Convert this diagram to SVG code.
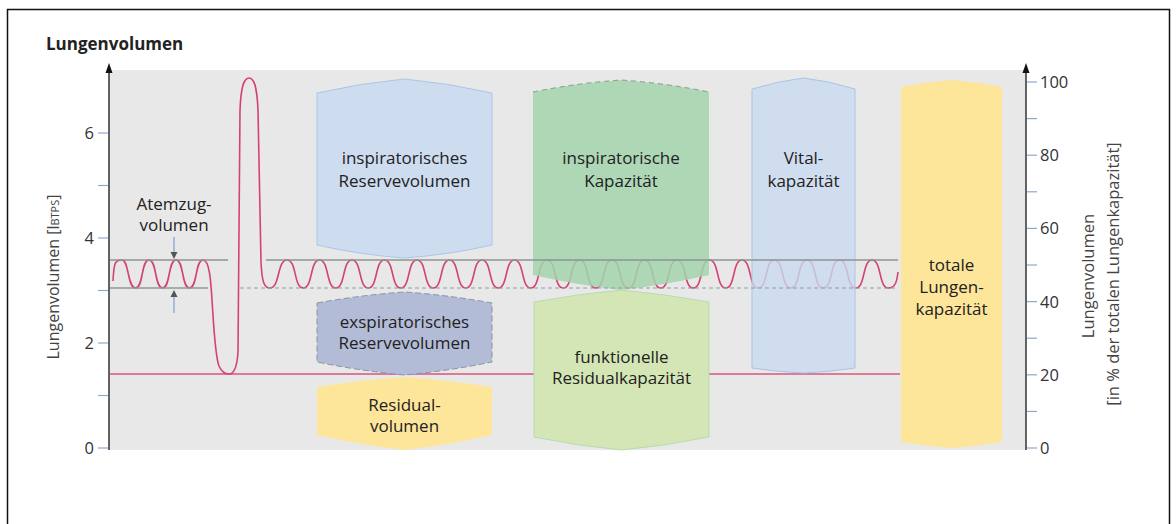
<svg xmlns="http://www.w3.org/2000/svg" width="1176" height="524" viewBox="0 0 1176 524">
<style>
text{font-family:"Open Sans","Noto Sans","Liberation Sans",sans-serif;fill:#222}
.lbl{font-size:17px;text-anchor:middle}
.ax{font-size:16.5px;fill:#333}
.tick{stroke:#8fa8d0;stroke-width:1.2}
.box{stroke-width:1}
</style>
<rect x="7.5" y="9.5" width="1162" height="530" fill="#fff" stroke="#111" stroke-width="1.5"/>
<rect x="109" y="70" width="917" height="380" fill="#e8e8e8"/>
<text x="46" y="50" style="font-size:17px;font-weight:bold;fill:#222">Lungenvolumen</text>

<g id="axis-left">
<line x1="109" y1="450" x2="109" y2="66" stroke="#333" stroke-width="1.5"/>
<path d="M105.5,73 L109,63 L112.5,73 Z" fill="#111"/>
<line class="tick" x1="98" y1="448" x2="108" y2="448"/>
<line class="tick" x1="98" y1="395.5" x2="108" y2="395.5"/>
<line class="tick" x1="98" y1="343" x2="108" y2="343"/>
<line class="tick" x1="98" y1="290.5" x2="108" y2="290.5"/>
<line class="tick" x1="98" y1="238" x2="108" y2="238"/>
<line class="tick" x1="98" y1="185.5" x2="108" y2="185.5"/>
<line class="tick" x1="98" y1="133" x2="108" y2="133"/>
<text class="ax" x="94" y="454" text-anchor="end">0</text>
<text class="ax" x="94" y="349" text-anchor="end">2</text>
<text class="ax" x="94" y="244" text-anchor="end">4</text>
<text class="ax" x="94" y="139" text-anchor="end">6</text>
<text transform="translate(59,277) rotate(-90)" text-anchor="middle" style="font-size:16px;fill:#444">Lungenvolumen [l<tspan style="font-size:11px">BTPS</tspan>]</text>
</g>

<g id="axis-right">
<line x1="1026" y1="450" x2="1026" y2="66" stroke="#333" stroke-width="1.5"/>
<path d="M1022.5,73 L1026,63 L1029.5,73 Z" fill="#111"/>
<line class="tick" x1="1027" y1="448" x2="1037" y2="448"/>
<line class="tick" x1="1027" y1="411.4" x2="1037" y2="411.4"/>
<line class="tick" x1="1027" y1="374.8" x2="1037" y2="374.8"/>
<line class="tick" x1="1027" y1="338.2" x2="1037" y2="338.2"/>
<line class="tick" x1="1027" y1="301.6" x2="1037" y2="301.6"/>
<line class="tick" x1="1027" y1="265" x2="1037" y2="265"/>
<line class="tick" x1="1027" y1="228.4" x2="1037" y2="228.4"/>
<line class="tick" x1="1027" y1="191.8" x2="1037" y2="191.8"/>
<line class="tick" x1="1027" y1="155.2" x2="1037" y2="155.2"/>
<line class="tick" x1="1027" y1="118.6" x2="1037" y2="118.6"/>
<line class="tick" x1="1027" y1="82" x2="1037" y2="82"/>
<text class="ax" x="1040" y="454">0</text>
<text class="ax" x="1040" y="381">20</text>
<text class="ax" x="1040" y="308">40</text>
<text class="ax" x="1040" y="234">60</text>
<text class="ax" x="1040" y="161">80</text>
<text class="ax" x="1040" y="88">100</text>
<text transform="translate(1094,276) rotate(-90)" text-anchor="middle" style="font-size:16.5px;fill:#444">Lungenvolumen</text>
<text transform="translate(1119,274) rotate(-90)" text-anchor="middle" style="font-size:16.5px;fill:#444">[in % der totalen Lungenkapazität]</text>
</g>

<g id="connectors">
<line x1="110" y1="374" x2="900" y2="374" stroke="#d8567c" stroke-width="1.6"/>
<path fill="none" stroke="#d4436f" stroke-width="1.6" d="M113,281 C114,262 115,260 122,260 S127.4,288 135.5,288 S140.9,260 149,260 S154.4,288 162.5,288 S167.9,260 176,260 S181.4,288 189.5,288 S194.9,260 203,260 C210,260 211,285 212,300 C214,330 215,355 219,366 C222,373 226,374 229,374 C234,374 237,368 238,352 L240,110 C241,86 244,78 249,78 C254,78 257,86 258,110 L261,262 C262,282 264,288 270,288 C280,288 277,260 287,260 S293.5,288 303.25,288 S309.75,260 319.5,260 S326,288 335.75,288 S342.25,260 352,260 S358.5,288 368.25,288 S374.75,260 384.5,260 S391,288 400.75,288 S407.25,260 417,260 S423.5,288 433.25,288 S439.75,260 449.5,260 S456,288 465.75,288 S472.25,260 482,260 S488.5,288 498.25,288 S504.75,260 514.5,260 S521,288 530.75,288 S537.25,260 547,260 S553.5,288 563.25,288 S569.75,260 579.5,260 S586,288 595.75,288 S602.25,260 612,260 S618.5,288 628.25,288 S634.75,260 644.5,260 S651,288 660.75,288 S667.25,260 677,260 S683.5,288 693.25,288 S699.75,260 709.5,260 S716,288 725.75,288 S732.25,260 742,260 S748.5,288 758.25,288 S764.75,260 774.5,260 S781,288 790.75,288 S797.25,260 807,260 S813.5,288 823.25,288 S829.75,260 839.5,260 S846,288 855.75,288 S862.25,260 872,260 S878.5,288 888.25,288 C896,288 897,280 898,272"/>
</g>

<g id="irv"><path class="box" d="M317,93 Q361,83 404.5,79 Q448,83 492,93 L492,245 Q448,255 404.5,258 Q361,255 317,245 Z" fill="#cddcef" stroke="#a8c8e6"/>
<text class="lbl" x="404.5" y="164">inspiratorisches</text><text class="lbl" x="404.5" y="187">Reservevolumen</text></g>

<g id="ic"><path d="M533,92 Q577,83 621,80 Q665,83 709,92 L709,275 Q665,285 621,290 Q577,285 533,275 Z" fill="#a2d3ab" fill-opacity="0.85"/>
<path d="M533,92 Q577,83 621,80 Q665,83 709,92" fill="none" stroke="#8a9a8e" stroke-dasharray="5,4"/>
<text class="lbl" x="621" y="164">inspiratorische</text><text class="lbl" x="621" y="187">Kapazität</text></g>

<g id="vc"><path class="box" d="M752,89 Q778,81 803.5,78 Q829,81 855,89 L855,368 Q829,372 803.5,373 Q778,372 752,368 Z" fill="#c8daf0" fill-opacity="0.8" stroke="#a6c6e6"/>
<text class="lbl" x="803.5" y="164">Vital-</text><text class="lbl" x="803.5" y="187">kapazität</text></g>

<g id="tlc"><path d="M901,87 Q926,82 951.5,80 Q977,82 1002,87 L1002,442 Q977,446 951.5,448 Q926,446 901,442 Z" fill="#fde59a"/>
<text class="lbl" x="951.5" y="271">totale</text><text class="lbl" x="951.5" y="293">Lungen-</text><text class="lbl" x="951.5" y="315">kapazität</text></g>

<g id="erv"><path d="M317,303 Q361,295 404.5,292 Q448,295 492,303 L492,362 Q448,371 404.5,375 Q361,371 317,362 Z" fill="#b3bcd6" stroke="#8a92a6" stroke-dasharray="6,3"/>
<text class="lbl" x="404.5" y="328">exspiratorisches</text><text class="lbl" x="404.5" y="349">Reservevolumen</text></g>

<g id="rv"><path d="M317,387 Q361,380 404.5,377 Q448,380 492,387 L492,435 Q448,445 404.5,450 Q361,445 317,435 Z" fill="#fde59a"/>
<text class="lbl" x="404.5" y="411">Residual-</text><text class="lbl" x="404.5" y="432">volumen</text></g>

<g id="frc"><path d="M534,302 Q578,294 621.5,290 Q665,294 709,302 L709,437 Q665,446 621.5,450 Q578,446 534,437 Z" fill="#d4e6b6" stroke="#b6dcb2"/>
<text class="lbl" x="621.5" y="363">funktionelle</text><text class="lbl" x="621.5" y="384">Residualkapazität</text></g>

<g id="reflines">
<line x1="110" y1="260" x2="228" y2="260" stroke="#8c9494" stroke-width="1.3"/>
<line x1="110" y1="288" x2="208" y2="288" stroke="#8c9a9a" stroke-width="1.3"/>
<line x1="266" y1="260" x2="898" y2="260" stroke="#8c9494" stroke-width="1.3"/>
<line x1="240" y1="288" x2="898" y2="288" stroke="#8aa0a8" stroke-width="1.2" stroke-dasharray="4,3"/>
</g>

<g id="tidal">
<text class="lbl" x="174" y="210">Atemzug-</text><text class="lbl" x="174" y="231">volumen</text>
<line x1="174" y1="237" x2="174" y2="253" stroke="#a8bcd8" stroke-width="2"/>
<path d="M170.5,252 L177.5,252 L174,259 Z" fill="#555"/>
<line x1="174" y1="296" x2="174" y2="313" stroke="#a8bcd8" stroke-width="2"/>
<path d="M170.5,297 L177.5,297 L174,290 Z" fill="#555"/>
</g>
</svg>
